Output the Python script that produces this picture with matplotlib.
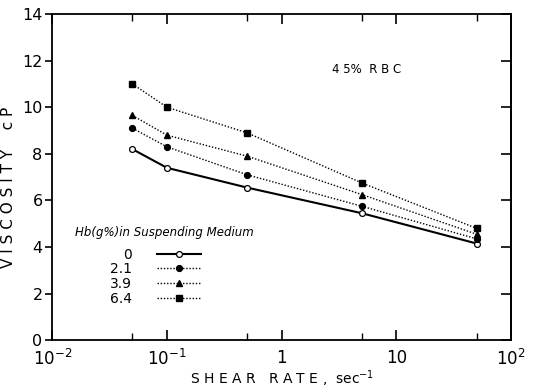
import matplotlib
matplotlib.use("Agg")
import matplotlib.pyplot as plt
from matplotlib.ticker import FixedLocator, NullFormatter

shear_rate = [0.05, 0.1, 0.5, 5, 50]
hb_levels = ["0", "2.1", "3.9", "6.4"]
visc_0 = [8.2, 7.4, 6.55, 5.45, 4.15]
visc_21 = [9.1, 8.3, 7.1, 5.75, 4.35]
visc_39 = [9.65, 8.8, 7.9, 6.25, 4.55]
visc_64 = [11.0, 10.0, 8.9, 6.75, 4.8]

x_major = [1e-2, 1e-1, 1, 10, 1e2]
x_major_labels = ["10$^{-2}$", "10$^{-1}$", "1", "10", "10$^{2}$"]
x_minor = [0.05, 0.5, 5, 50]
y_ticks = [0, 2, 4, 6, 8, 10, 12, 14]

plt.rcParams['font.family'] = ['DejaVu Sans']

fig = plt.figure(figsize=(5.33, 3.91), dpi=100)
ax = fig.add_axes([0.098, 0.130, 0.861, 0.834])

dot = (0, (1, 1.3))
series = [
    (visc_0, dict(color='black', lw=1.5, ls='-', marker='o', mfc='white', mec='black', ms=4.2, mew=0.9)),
    (visc_21, dict(color='black', lw=1.0, ls=dot, marker='o', mfc='black', mec='black', ms=4.2)),
    (visc_39, dict(color='black', lw=1.0, ls=dot, marker='^', mfc='black', mec='black', ms=4.2)),
    (visc_64, dict(color='black', lw=1.0, ls=dot, marker='s', mfc='black', mec='black', ms=3.8)),
]
handles = []
for (vals, style), lab in zip(series, hb_levels):
    h, = ax.plot(shear_rate, vals, label=lab, **style)
    handles.append(h)

ax.set_xscale('log')
ax.set_xlim(1e-2, 1e2)
ax.set_ylim(0, 14)
ax.xaxis.set_major_locator(FixedLocator(x_major))
ax.set_xticklabels(x_major_labels)
ax.xaxis.set_minor_locator(FixedLocator(x_minor))
ax.xaxis.set_minor_formatter(NullFormatter())
ax.set_yticks(y_ticks)

ax.tick_params(axis='x', which='major', direction='in', top=True, bottom=True,
               length=7, width=1.2, labelsize=12, pad=6)
ax.tick_params(axis='x', which='minor', direction='in', top=True, bottom=True,
               length=5, width=1.0)
ax.tick_params(axis='y', which='major', direction='out', left=True, right=False,
               length=5, width=1.2, labelsize=11.5, pad=2)
sec = ax.secondary_yaxis('right')
sec.set_yticks(y_ticks)
sec.tick_params(axis='y', direction='in', length=7, width=1.2, labelright=False)

for sp in list(ax.spines.values()) + [sec.spines['right']]:
    sp.set_linewidth(1.3)

ax.set_xlabel("S H E A R   R A T E ,  sec$^{-1}$", fontsize=10, labelpad=0)
ax.set_ylabel("V I S C O S I T Y    c P", fontsize=11)
ax.yaxis.set_label_coords(-0.08, 0.47)

ax.text(0.61, 0.82, "4 5%  R B C", transform=ax.transAxes, fontsize=8.5)

ax.text(0.05, 0.32, "Hb(g%)in Suspending Medium", transform=ax.transAxes,
        fontsize=8.5, style='italic')

leg = ax.legend(handles=handles, loc='upper left', bbox_to_anchor=(0.11, 0.305),
                markerfirst=False, frameon=False, fontsize=10, handlelength=3.2,
                handletextpad=1.8, labelspacing=0.05, borderpad=0)

fig.savefig("out.png", dpi=100)
